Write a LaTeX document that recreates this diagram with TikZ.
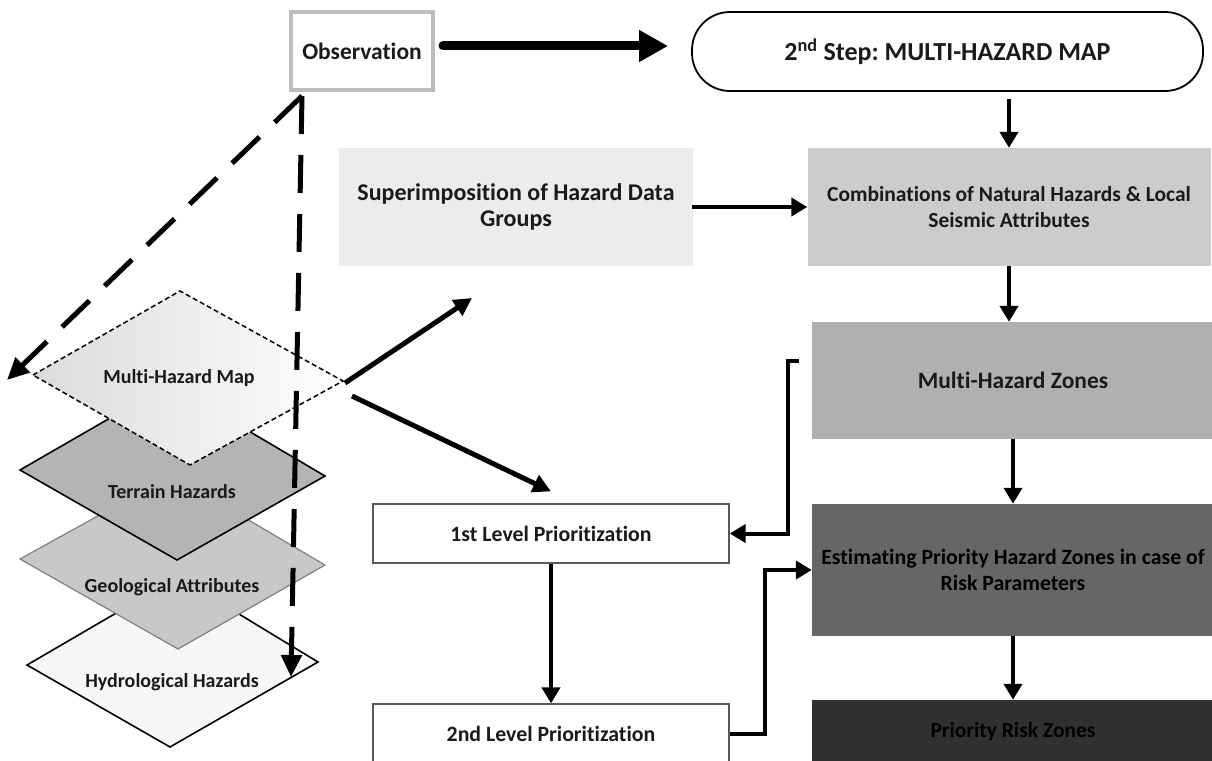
\documentclass[tikz,border=0pt]{standalone}
\usepackage{fontspec}
\setmainfont{Carlito}[Ligatures=CommonOff]
\usetikzlibrary{arrows.meta}
\frenchspacing
\definecolor{ink}{HTML}{1A1A1A}
\definecolor{supfill}{HTML}{ECECEC}
\definecolor{combfill}{HTML}{CCCCCC}
\definecolor{zonefill}{HTML}{B0B0B0}
\definecolor{estfill}{HTML}{666666}
\definecolor{riskfill}{HTML}{303030}
\definecolor{obsline}{HTML}{BDBDBD}
\definecolor{terrfill}{HTML}{B4B4B4}
\definecolor{geofill}{HTML}{C8C8C8}
\definecolor{hydfill}{HTML}{F7F7F7}
\begin{document}
\begin{tikzpicture}[x=1pt,y=-1pt,
  box/.style={rectangle, inner sep=0pt, align=center, text=ink,
    font=\bfseries\fontsize{23.5}{26}\selectfont},
  fs/.style={font=\bfseries\fontsize{#1}{26}\selectfont},
  graybox/.style={box, fill=#1},
  whitebox/.style={box, draw=gray!70!black, line width=1.3pt, fill=white, fs=21.8},
  lbl/.style={inner sep=0pt, text=ink, font=\bfseries\fontsize{20}{24}\selectfont},
  conn/.style={line width=4pt, -{Triangle[length=16pt,width=18pt]}},
  bigarrow/.style={line width=9pt, line cap=round, -{Triangle[length=29pt,width=30pt]}},
  dashedarrow/.style={line width=5pt, dash pattern=on 38pt off 21pt, -{Triangle[length=22pt,width=20pt]}},
  layer/.style={line width=1.6pt, line join=miter}
]
\useasboundingbox (0,0) rectangle (1212,760);

% ---------- stacked map layers (back to front) ----------
\coordinate (hL) at (27,665);  \coordinate (hT) at (178,577);
\coordinate (hR) at (318,662); \coordinate (hB) at (170,747);
\filldraw[layer, fill=hydfill, draw=black] (hL) -- (hT) -- (hR) -- (hB) -- cycle;
\node[lbl] (hyd) at (172,682) {Hydrological Hazards};

\coordinate (gL) at (20,559);  \coordinate (gT) at (172,475);
\coordinate (gR) at (325,565); \coordinate (gB) at (178,649);
\filldraw[layer, fill=geofill, draw=gray, line width=1.2pt] (gL) -- (gT) -- (gR) -- (gB) -- cycle;
\node[lbl] (geo) at (172,587) {Geological Attributes};

\coordinate (tL) at (20,470);  \coordinate (tT) at (169,384);
\coordinate (tR) at (325,476); \coordinate (tB) at (177,560);
\filldraw[layer, fill=terrfill, draw=black] (tL) -- (tT) -- (tR) -- (tB) -- cycle;
\node[lbl] (ter) at (172,492) {Terrain Hazards};

\coordinate (mL) at (33,375);  \coordinate (mT) at (180,291);
\coordinate (mR) at (343,381); \coordinate (mB) at (190,465);
\shade[left color=gray!28, right color=white] (mL) -- (mT) -- (mR) -- (mB) -- cycle;
\draw[line width=1.5pt, dash pattern=on 5pt off 3pt] (mL) -- (mT) -- (mR) -- (mB) -- cycle;
\node[lbl] (mhm) at (179,378) {Multi-Hazard Map};

% ---------- boxes ----------
\node[box, draw=obsline, line width=4pt, fill=white, minimum width=142pt, minimum height=77pt]
  (obs) at (362,51) {Observation};
\node[box, draw=black, line width=1.8pt, fill=white, rounded corners=38pt,
  minimum width=511pt, minimum height=79pt, font=\bfseries\fontsize{26}{30}\selectfont]
  (step) at (947.5,51.5) {2\textsuperscript{nd} Step: MULTI-HAZARD MAP};
\node[graybox=supfill, fs=24, minimum width=354pt, minimum height=118pt]
  (sup) at (516,207) {Superimposition of Hazard Data\\Groups};
\node[graybox=combfill, fs=21.5, minimum width=403pt, minimum height=118pt]
  (comb) at (1009,207) {Combinations of Natural Hazards \& Local\\Seismic Attributes};
\node[graybox=zonefill, minimum width=402pt, minimum height=117pt]
  (mhz) at (1013,380.5) {Multi-Hazard Zones};
\node[graybox=estfill, fs=21.8, minimum width=402pt, minimum height=132pt, text=black]
  (est) at (1013,570) {Estimating Priority Hazard Zones in case of\\Risk Parameters};
\node[graybox=riskfill, fs=21.5, minimum width=402pt, minimum height=64pt, text=black]
  (prz) at (1013,732) {Priority Risk Zones};
\node[whitebox, minimum width=356pt, minimum height=59pt]
  (lv1) at (551,533.5) {1st Level Prioritization};
\node[whitebox, minimum width=356pt, minimum height=60pt]
  (lv2) at (551,734) {2nd Level Prioritization};

% ---------- connectors ----------
\draw[bigarrow, shorten <=8pt, shorten >=23pt]
  ([yshift=5pt]obs.east) -- ([yshift=5pt]obs.east -| step.west);
\draw[conn, shorten <=7pt] (comb.north |- step.south) -- (comb.north);
\draw[conn, shorten <=-1pt] (sup.east) -- (comb.west);
\draw[conn] (comb.south) -- (comb.south |- mhz.north);
\draw[conn] (mhz.south) -- (est.north);
\draw[conn] (est.south) -- (prz.north);
\draw[conn, line join=miter] ([xshift=-13pt,yshift=19.5pt]mhz.west) -- ++(-11,0) |- (lv1.east);
\draw[conn] (lv1.south) -- (lv2.north);
\draw[conn, line join=miter] (lv2.east) -- ++(35,0) |- (est.west);

% arrows leaving the multi-hazard map layer
\coordinate (supIn) at (472,298);
\draw[line width=5pt, -{Triangle[length=18pt,width=18pt]}] ([shift={(2,2)}]mR) -- (supIn);
\draw[line width=5pt, -{Triangle[length=18pt,width=18pt]}] ([shift={(9,15)}]mR) -- ([yshift=12pt]lv1.north);

% dashed projections from the observation box
\coordinate (obsFoot) at (302,96);
\coordinate (leftEnd) at (7,380);
\coordinate (downEnd) at (291,677);
\draw[dashedarrow] (obsFoot) -- (leftEnd);
\draw[dashedarrow] (obsFoot) -- (downEnd);
\end{tikzpicture}
\end{document}
